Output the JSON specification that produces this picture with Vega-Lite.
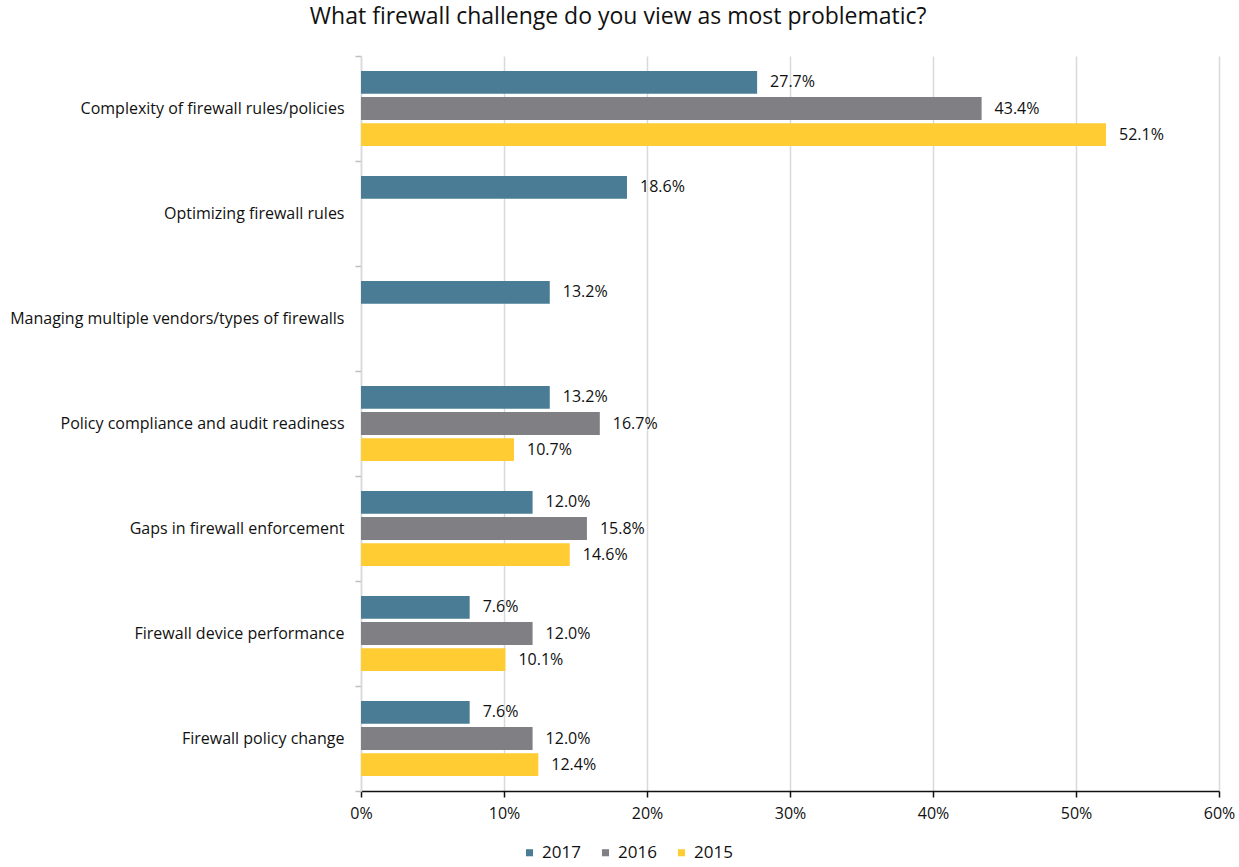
{
  "$schema": "https://vega.github.io/schema/vega-lite/v6.json",
  "autosize": "none",
  "width": 858,
  "height": 735,
  "padding": {"left": 361, "top": 56, "right": 20, "bottom": 76},
  "background": "white",
  "title": {
    "text": "What firewall challenge do you view as most problematic?",
    "font": "Open Sans",
    "fontSize": 23,
    "fontWeight": "normal",
    "color": "#111111",
    "anchor": "middle",
    "frame": "bounds",
    "dx": -4,
    "offset": 19
  },
  "config": {
    "view": {"stroke": null},
    "font": "Open Sans"
  },
  "data": {
    "values": [
      {"cat": "Complexity of firewall rules/policies", "year": "2017", "v": 0.277},
      {"cat": "Complexity of firewall rules/policies", "year": "2016", "v": 0.434},
      {"cat": "Complexity of firewall rules/policies", "year": "2015", "v": 0.521},
      {"cat": "Optimizing firewall rules", "year": "2017", "v": 0.186},
      {"cat": "Managing multiple vendors/types of firewalls", "year": "2017", "v": 0.132},
      {"cat": "Policy compliance and audit readiness", "year": "2017", "v": 0.132},
      {"cat": "Policy compliance and audit readiness", "year": "2016", "v": 0.167},
      {"cat": "Policy compliance and audit readiness", "year": "2015", "v": 0.107},
      {"cat": "Gaps in firewall enforcement", "year": "2017", "v": 0.120},
      {"cat": "Gaps in firewall enforcement", "year": "2016", "v": 0.158},
      {"cat": "Gaps in firewall enforcement", "year": "2015", "v": 0.146},
      {"cat": "Firewall device performance", "year": "2017", "v": 0.076},
      {"cat": "Firewall device performance", "year": "2016", "v": 0.120},
      {"cat": "Firewall device performance", "year": "2015", "v": 0.101},
      {"cat": "Firewall policy change", "year": "2017", "v": 0.076},
      {"cat": "Firewall policy change", "year": "2016", "v": 0.120},
      {"cat": "Firewall policy change", "year": "2015", "v": 0.124}
    ]
  },
  "encoding": {
    "y": {
      "field": "cat",
      "type": "nominal",
      "sort": null,
      "title": null,
      "scale": {"paddingInner": 0, "paddingOuter": 0},
      "axis": {
        "labelFont": "Open Sans",
        "labelFontSize": 16,
        "labelColor": "#111111",
        "labelPadding": 11,
        "labelLimit": 400,
        "tickBand": "extent",
        "tickColor": "#bfbfbf",
        "tickSize": 6,
        "tickWidth": 1.5,
        "domainColor": "#d9d9d9",
        "domainWidth": 1.5,
        "grid": false
      }
    },
    "yOffset": {
      "field": "year",
      "type": "nominal",
      "sort": ["2017", "2016", "2015"],
      "scale": {"paddingInner": 0.12, "paddingOuter": 0.57}
    },
    "x": {
      "field": "v",
      "type": "quantitative",
      "title": null,
      "scale": {"domain": [0, 0.6], "nice": false},
      "axis": {
        "format": ".0%",
        "values": [0, 0.1, 0.2, 0.3, 0.4, 0.5, 0.6],
        "labelFont": "Open Sans",
        "labelFontSize": 16,
        "labelColor": "#111111",
        "labelPadding": 8,
        "labelFlush": false,
        "domainColor": "#111111",
        "domainWidth": 1.5,
        "tickColor": "#111111",
        "tickSize": 6,
        "tickWidth": 1.5,
        "gridColor": "#d9d9d9",
        "gridWidth": 1.5
      }
    }
  },
  "layer": [
    {
      "mark": {"type": "bar"},
      "encoding": {
        "color": {
          "field": "year",
          "type": "nominal",
          "sort": ["2017", "2016", "2015"],
          "scale": {"domain": ["2017", "2016", "2015"], "range": ["#4a7c96", "#808084", "#ffcc33"]},
          "legend": {
            "title": null,
            "orient": "none",
            "direction": "horizontal",
            "legendX": 160,
            "legendY": 788,
            "symbolType": "square",
            "symbolSize": 50,
            "symbolStrokeWidth": 0,
            "labelFont": "Open Sans",
            "labelFontSize": 17,
            "labelColor": "#111111",
            "columnPadding": 16,
            "labelOffset": 4
          }
        }
      }
    },
    {
      "mark": {"type": "text", "align": "left", "dx": 13, "font": "Open Sans", "fontSize": 16, "color": "#111111"},
      "encoding": {
        "text": {"field": "v", "type": "quantitative", "format": ".1%"}
      }
    }
  ]
}
